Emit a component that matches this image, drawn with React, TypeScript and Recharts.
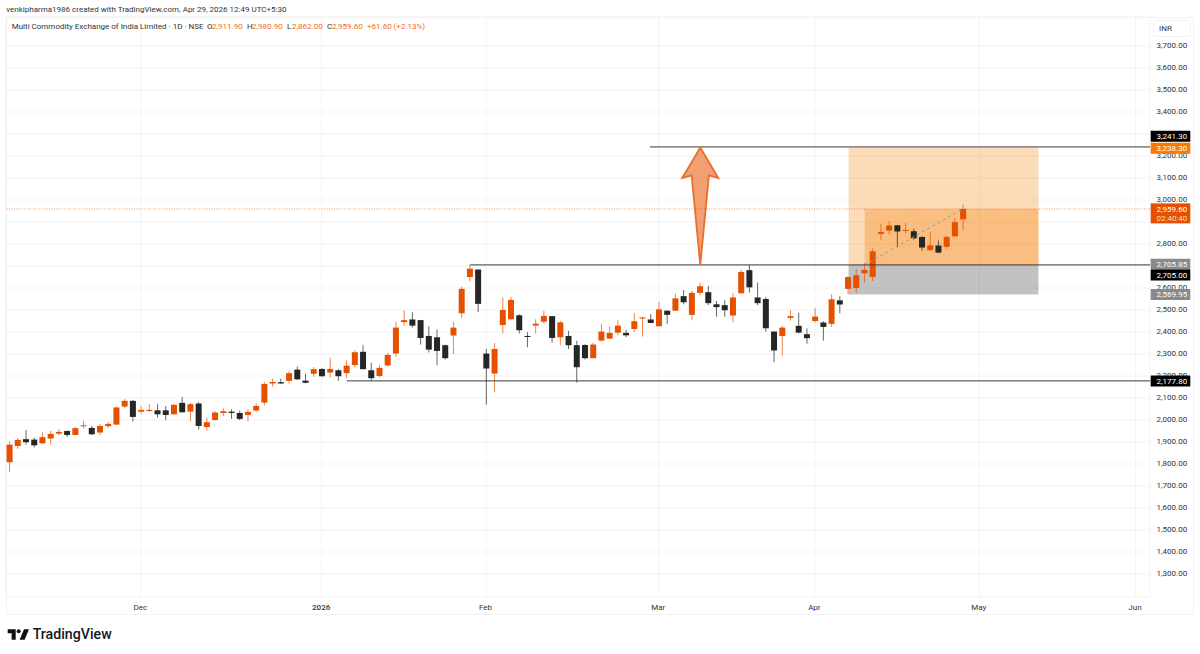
import React from "react";
import {
  ComposedChart,
  Bar,
  XAxis,
  YAxis,
  CartesianGrid,
  ReferenceArea,
  ReferenceLine,
  ReferenceDot,
} from "recharts";

const opens = [
  1808, 1882, 1913, 1911, 1894, 1916, 1938, 1950, 1932, 1972,
  1964, 1943, 1972, 1979, 2061, 2087, 2038, 2041, 2044, 2044,
  2026, 2078, 2038, 2075, 1968, 2000, 2032, 2038, 2032, 2023,
  2043, 2079, 2166, 2172, 2178, 2229, 2179, 2210, 2232, 2216,
  2226, 2213, 2250, 2310, 2226, 2200, 2248, 2302, 2445, 2457,
  2454, 2382, 2376, 2340, 2384, 2485, 2650, 2684, 2302, 2211,
  2432, 2458, 2476, 2382, 2429, 2447, 2472, 2376, 2382, 2340,
  2341, 2281, 2361, 2370, 2397, 2396, 2414, 2461, 2457, 2426,
  2497, 2497, 2563, 2478, 2578, 2581, 2526, 2522, 2475, 2576,
  2681, 2557, 2550, 2402, 2382, 2464, 2428, 2390, 2450, 2443,
  2437, 2544, 2596, 2600, 2667, 2650, 2846, 2861, 2885, 2860,
  2858, 2832, 2772, 2793, 2787, 2835, 2911.9,
];
const highs = [
  1902, 1917, 1955, 1920, 1944, 1950, 1959, 1952, 1967, 1996,
  1973, 1981, 1991, 2061, 2096, 2091, 2064, 2072, 2072, 2064,
  2072, 2105, 2078, 2081, 2012, 2040, 2053, 2049, 2043, 2050,
  2075, 2172, 2188, 2188, 2222, 2243, 2210, 2241, 2235, 2282,
  2231, 2272, 2317, 2340, 2260, 2250, 2305, 2446, 2499, 2490,
  2455, 2426, 2411, 2343, 2446, 2607, 2707, 2685, 2323, 2350,
  2557, 2560, 2481, 2399, 2458, 2497, 2473, 2450, 2405, 2360,
  2344, 2351, 2438, 2426, 2454, 2410, 2485, 2469, 2481, 2537,
  2497, 2575, 2591, 2588, 2625, 2610, 2541, 2544, 2578, 2682,
  2705, 2625, 2558, 2403, 2428, 2499, 2488, 2416, 2508, 2449,
  2572, 2563, 2652, 2685, 2713, 2779, 2891, 2905, 2887, 2896,
  2869, 2835, 2855, 2816, 2837, 2917, 2980.9,
];
const lows = [
  1764, 1869, 1888, 1876, 1891, 1888, 1929, 1923, 1932, 1961,
  1932, 1932, 1964, 1979, 2055, 1993, 2029, 2037, 2011, 1999,
  2025, 2035, 1993, 1956, 1952, 1997, 2018, 2005, 1999, 1993,
  2037, 2066, 2152, 2164, 2166, 2182, 2167, 2197, 2197, 2193,
  2178, 2191, 2240, 2231, 2179, 2194, 2243, 2288, 2428, 2420,
  2343, 2307, 2249, 2275, 2300, 2463, 2631, 2491, 2070, 2126,
  2394, 2454, 2393, 2331, 2394, 2438, 2352, 2340, 2323, 2170,
  2275, 2281, 2357, 2367, 2385, 2376, 2400, 2379, 2441, 2426,
  2437, 2497, 2526, 2454, 2566, 2522, 2469, 2469, 2444, 2576,
  2579, 2522, 2402, 2263, 2293, 2452, 2394, 2347, 2443, 2361,
  2423, 2485, 2573, 2578, 2626, 2632, 2816, 2843, 2785, 2849,
  2820, 2770, 2769, 2758, 2778, 2834, 2862,
];
const closes = [
  1888, 1910, 1899, 1885, 1922, 1937, 1946, 1932, 1963, 1976,
  1935, 1973, 1982, 2057, 2087, 2014, 2046, 2046, 2026, 2023,
  2069, 2035, 2072, 1973, 1990, 2034, 2040, 2032, 2005, 2037,
  2064, 2164, 2173, 2166, 2213, 2185, 2169, 2231, 2199, 2232,
  2199, 2247, 2308, 2231, 2190, 2237, 2296, 2420, 2454, 2429,
  2373, 2320, 2314, 2281, 2420, 2596, 2688, 2528, 2234, 2323,
  2500, 2546, 2408, 2379, 2438, 2473, 2373, 2444, 2340, 2240,
  2281, 2343, 2402, 2396, 2429, 2385, 2449, 2466, 2441, 2503,
  2478, 2553, 2535, 2578, 2608, 2531, 2513, 2499, 2557, 2673,
  2603, 2531, 2417, 2316, 2420, 2472, 2397, 2372, 2470, 2423,
  2549, 2525, 2650, 2658, 2682, 2767, 2855, 2884, 2857, 2864,
  2826, 2784, 2794, 2761, 2832, 2899, 2959.6,
];

const timeTickBars = [17, 39, 59, 80, 99, 119, 138];
const timeTickLabels = ["Dec", "2026", "Feb", "Mar", "Apr", "May", "Jun"];
const priceTicks = [
  1300, 1400, 1500, 1600, 1700, 1800, 1900, 2000, 2100, 2200, 2300, 2400, 2500,
  2600, 2700, 2800, 2900, 3000, 3100, 3200, 3300, 3400, 3500, 3600, 3700,
];
const coveredPriceTicks = [2700, 2900];

const ORANGE = "#e65100";
const BLACK = "#262626";
const X_DOMAIN = [0.6, 139.77];
const Y_DOMAIN = [1195.5, 3831.8];
const PLOT_W = 1144;
const PLOT_H = 580;
const PX_PER_BAR = PLOT_W / (X_DOMAIN[1] - X_DOMAIN[0]);
const PX_PER_PRICE = PLOT_H / (Y_DOMAIN[1] - Y_DOMAIN[0]);

const rows = opens.map((o, k) => ({
  bar: k + 1,
  open: o,
  high: highs[k],
  low: lows[k],
  close: closes[k],
  range: [lows[k], highs[k]],
}));

const fmt = (v: number) =>
  v.toLocaleString("en-US", { minimumFractionDigits: 2, maximumFractionDigits: 2 });

const Candle = (props: any) => {
  const { x, y, width, height, payload } = props;
  if (!payload) return null;
  const up = payload.close >= payload.open;
  const color = up ? ORANGE : BLACK;
  const k = height / (payload.high - payload.low || 1);
  const top = y + (payload.high - Math.max(payload.open, payload.close)) * k;
  const bh = Math.max(Math.abs(payload.close - payload.open) * k, 1);
  const cx = x + width / 2 + 0.4;
  return (
    <g>
      <line x1={cx} x2={cx} y1={y} y2={y + height} stroke={color} strokeOpacity={0.7} strokeWidth={1} />
      <rect x={x + 0.4} y={top} width={width} height={bh} fill={color} />
    </g>
  );
};

const TimeTick = (props: any) => {
  const { x, y, payload } = props;
  const idx = timeTickBars.indexOf(payload.value);
  const label = timeTickLabels[idx];
  return (
    <text
      x={x - 0.5}
      y={y + 5}
      textAnchor="middle"
      fontFamily="Roboto"
      fontSize={8}
      fontWeight={label === "2026" ? 500 : 400}
      fill="#333"
    >
      {label}
    </text>
  );
};

const PriceTick = (props: any) => {
  const { x, y, payload } = props;
  if (coveredPriceTicks.includes(payload.value)) return null;
  return (
    <text x={x} y={y + 1.8} fontFamily="Roboto" fontSize={8} fill="#333">
      {fmt(payload.value)}
    </text>
  );
};

const priceLabels = [
  { price: 3241.3, bg: "#000000", fg: "#ffffff", dy: -10.6 },
  { price: 3238.3, bg: "#f57c00", fg: "#ffffff", dy: 0.8 },
  { price: 2705.85, bg: "#8a8a8a", fg: "#ffffff", dy: -0.4 },
  { price: 2705.0, bg: "#000000", fg: "#ffffff", dy: 10 },
  { price: 2569.95, bg: "#8a8a8a", fg: "#ffffff", dy: 0 },
  { price: 2177.8, bg: "#000000", fg: "#ffffff", dy: 0 },
];

const priceLabelShape = (l: (typeof priceLabels)[number]) => (p: any) => (
  <g>
    <rect x={p.cx + 0.7} y={p.cy + l.dy - 5.5} width={39.6} height={11} fill={l.bg} rx={0.5} />
    <text x={p.cx + 6.5} y={p.cy + l.dy + 2.8} fontFamily="Roboto" fontSize={8} fill={l.fg}>
      {fmt(l.price)}
    </text>
  </g>
);

const lastPriceShape = (p: any) => (
  <g>
    <rect x={p.cx + 0.7} y={p.cy - 5.5} width={39.6} height={20} fill={ORANGE} />
    <text x={p.cx + 6.5} y={p.cy + 2.8} fontFamily="Roboto" fontSize={8} fill="#fff">
      {fmt(closes[closes.length - 1])}
    </text>
    <text x={p.cx + 6.5} y={p.cy + 11.8} fontFamily="Roboto" fontSize={8} fill="#ffd9c2">
      02:40:40
    </text>
  </g>
);

const ARROW_BAR = 85.06;
const ARROW_TIP = 3238.3;
const ARROW_BASE = 2705;

const arrowShape = (p: any) => {
  const base = (ARROW_TIP - ARROW_BASE) * PX_PER_PRICE;
  const wing = 2.19 * PX_PER_BAR;
  const neck = 1.05 * PX_PER_BAR;
  const { cx, cy } = p;
  const pts = [
    [cx, cy],
    [cx + wing, cy + 30.5],
    [cx + neck, cy + 27.8],
    [cx, cy + base],
    [cx - neck, cy + 27.8],
    [cx - wing, cy + 30.5],
  ]
    .map((q) => q.join(","))
    .join(" ");
  return (
    <polygon
      points={pts}
      fill={ORANGE}
      fillOpacity={0.55}
      stroke="#ea6e2c"
      strokeWidth={1.8}
      strokeLinejoin="miter"
    />
  );
};

const Txt = ({ x, y, c, s, w, children }: any) => (
  <span
    style={{
      position: "absolute",
      left: x,
      top: y,
      color: c || "#333",
      fontFamily: "Roboto",
      fontSize: s || 8,
      fontWeight: w || 400,
      lineHeight: "10px",
      whiteSpace: "nowrap",
    }}
  >
    {children}
  </span>
);

export default function App() {
  const xMax = X_DOMAIN[1];
  const onTop: any = { zIndex: 2000 };
  return (
    <div style={{ position: "absolute", left: 0, top: 0, width: 1200, height: 654, background: "#fff", overflow: "hidden" }}>
      <div
        style={{
          position: "absolute",
          left: 6,
          top: 17,
          width: 1186,
          height: 596,
          border: "1px solid #f1f1f3",
        }}
      />
      <ComposedChart
        width={1200}
        height={654}
        data={rows}
        margin={{ left: 6, right: 7, top: 17, bottom: 40 }}
        style={{ position: "absolute", left: 0, top: 0 }}
      >
        <CartesianGrid stroke="#f3f3f4" strokeWidth={1} />
        <XAxis
          type="number"
          dataKey="bar"
          domain={X_DOMAIN}
          ticks={timeTickBars}
          interval={0}
          allowDataOverflow
          height={17}
          axisLine={false}
          tickLine={false}
          tick={<TimeTick />}
        />
        <YAxis
          orientation="right"
          type="number"
          domain={Y_DOMAIN}
          ticks={priceTicks}
          interval={0}
          allowDataOverflow
          width={43}
          axisLine={false}
          tickLine={false}
          tickSize={0}
          tickMargin={6.5}
          tick={<PriceTick />}
        />
        <ReferenceArea x1={103.1} x2={126.2} y1={2705} y2={3238.3} fill="#f57c00" fillOpacity={0.28} stroke="none" />
        <ReferenceArea x1={105.06} x2={126.2} y1={2705} y2={2959.6} fill="#f57c00" fillOpacity={0.3} stroke="none" />
        <ReferenceArea x1={103.1} x2={126.2} y1={2569.95} y2={2705} fill="#000" fillOpacity={0.24} stroke="none" />
        <ReferenceLine y={2959.6} stroke={ORANGE} strokeOpacity={0.6} strokeDasharray="1 1.5" />
        <Bar dataKey="range" barSize={6} shape={<Candle />} isAnimationActive={false} />
        <ReferenceLine
          segment={[{ x: 105.06, y: 2705 }, { x: 117, y: 2959.6 }]}
          stroke="#9a9a9a"
          strokeDasharray="3 3"
          strokeWidth={1}
        />
        <ReferenceLine segment={[{ x: 78.94, y: 3241.3 }, { x: xMax, y: 3241.3 }]} stroke="#3a3a3a" strokeWidth={1} />
        <ReferenceLine segment={[{ x: 57.08, y: 2705 }, { x: xMax, y: 2705 }]} stroke="#3a3a3a" strokeWidth={1} />
        <ReferenceLine segment={[{ x: 42.05, y: 2177.8 }, { x: xMax, y: 2177.8 }]} stroke="#3a3a3a" strokeWidth={1} />
        <ReferenceDot x={ARROW_BAR} y={ARROW_TIP} ifOverflow="visible" shape={arrowShape} />
        {priceLabels.map((l) => (
          <ReferenceDot key={l.price} {...onTop} x={xMax} y={l.price} ifOverflow="visible" shape={priceLabelShape(l)} />
        ))}
        <ReferenceDot {...onTop} x={xMax} y={2959.6} ifOverflow="visible" shape={lastPriceShape} />
      </ComposedChart>

      <Txt x={6.3} y={5}>venkipharma1986 created with TradingView.com, Apr 29, 2026 12:49 UTC+5:30</Txt>
      <Txt x={11.7} y={22}>Multi Commodity Exchange of India Limited · 1D · NSE</Txt>
      <Txt x={207} y={22}>O</Txt>
      <Txt x={212} y={22} c="#ef6c1a">2,911.90</Txt>
      <Txt x={247} y={22}>H</Txt>
      <Txt x={252} y={22} c="#ef6c1a">2,980.90</Txt>
      <Txt x={287} y={22}>L</Txt>
      <Txt x={292} y={22} c="#ef6c1a">2,862.00</Txt>
      <Txt x={327} y={22}>C</Txt>
      <Txt x={332} y={22} c="#ef6c1a">2,959.60</Txt>
      <Txt x={367} y={22} c="#ef6c1a">+61.60 (+2.13%)</Txt>

      <div
        style={{
          position: "absolute",
          left: 1152.5,
          top: 20,
          width: 38,
          height: 17,
          border: "1px solid #f1f1f3",
          borderRadius: 3,
          boxSizing: "border-box",
        }}
      />
      <Txt x={1159} y={24}>INR</Txt>

      <svg style={{ position: "absolute", left: 0, top: 620 }} width={32} height={26}>
        <path d="M7.7 9.2H15.7V19.8H11.6V13.3H7.7Z" fill="#111" />
        <circle cx={18.7} cy={11.2} r={2} fill="#111" />
        <path d="M24 9.2H29L24.6 19.8H19.6Z" fill="#111" />
      </svg>
      <Txt x={32.7} y={629} c="#131722" s={14.2} w={500}>TradingView</Txt>
    </div>
  );
}
